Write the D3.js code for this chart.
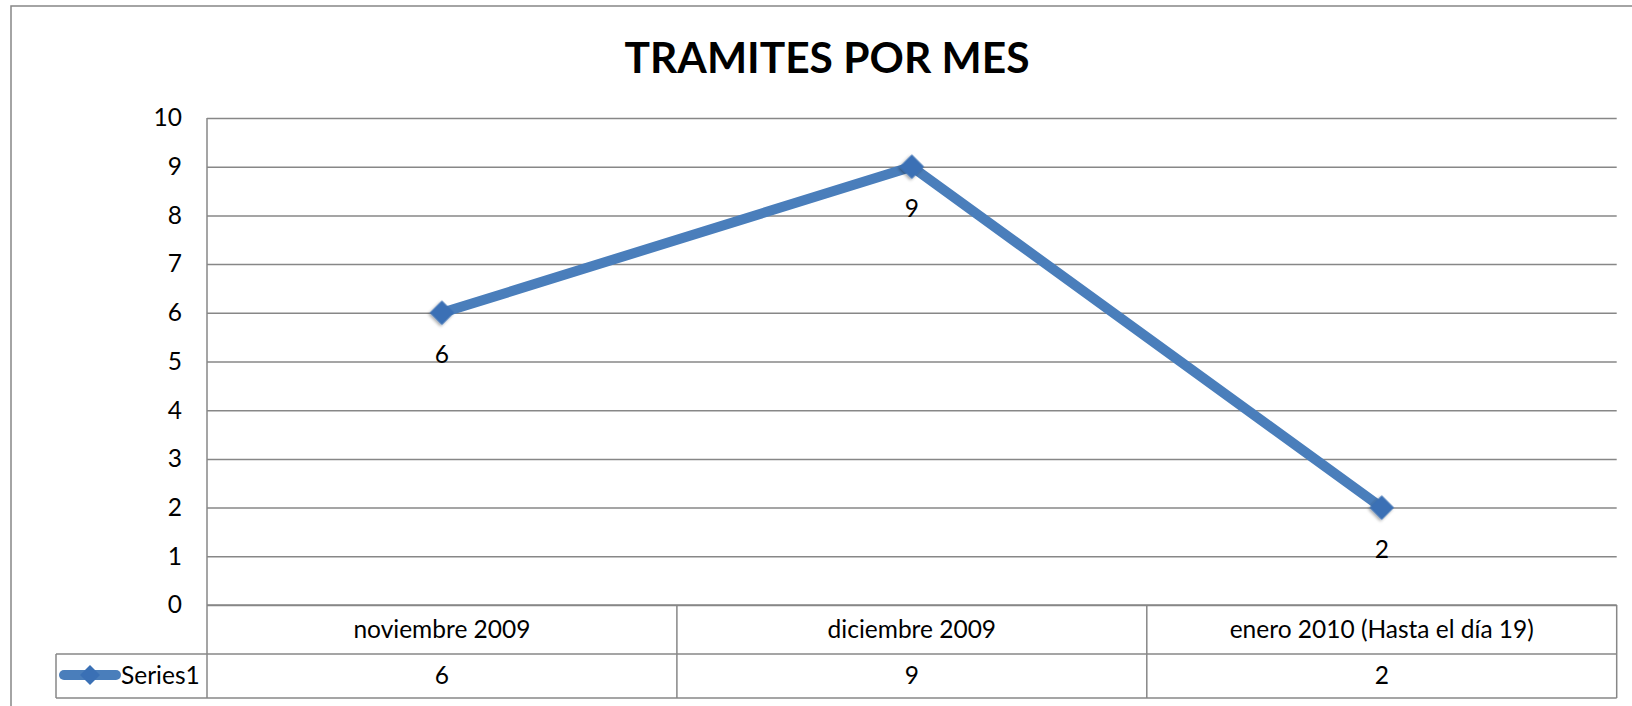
<!DOCTYPE html>
<html>
<head>
<meta charset="utf-8">
<script src="https://cdn.jsdelivr.net/npm/d3@7"></script>
<style>
  body { margin: 0; background: #fff; }
  svg { display: block; font-family: Lato, "Noto Sans", sans-serif; }
</style>
</head>
<body>
<script>
var categories = ["noviembre 2009", "diciembre 2009", "enero 2010 (Hasta el día 19)"];
var values = [6, 9, 2];
var yTicks = [0, 1, 2, 3, 4, 5, 6, 7, 8, 9, 10];
var seriesName = "Series1";
var title = "TRAMITES POR MES";

var width = 1632;
var height = 706;
var plotLeft = 207, plotRight = 1616.7, plotTop = 118, plotBottom = 605;
var rowH1 = 49, rowH2 = 44;
var gridColor = "#878787";
var lineColor = "#4a7ebb";

const svg = d3
  .select("body")
  .append("svg")
  .attr("width", width)
  .attr("height", height);

// outer chart border (runs past the right / bottom edge)
svg.append("rect")
  .attr("x", 11)
  .attr("y", 6)
  .attr("width", width)
  .attr("height", height)
  .attr("fill", "none")
  .attr("stroke", gridColor)
  .attr("stroke-width", 1.5);

const x = d3.scaleBand().domain(categories).range([plotLeft, plotRight]);
const y = d3.scaleLinear().domain([0, 10]).range([plotBottom, plotTop]);

// title
svg.append("text")
  .attr("x", 827)
  .attr("y", 73)
  .attr("text-anchor", "middle")
  .attr("font-weight", "bold")
  .attr("font-size", 42.5)
  .text(title);

// gridlines
svg.append("g")
  .attr("transform", "translate(" + plotLeft + ",0)")
  .call(d3.axisLeft(y).tickValues(yTicks).tickSize(-(plotRight - plotLeft)).tickFormat(""))
  .call(g => g.select(".domain").remove())
  .call(g => g.selectAll("line").attr("stroke", gridColor).attr("stroke-width", 1.5));

// y tick labels
svg.append("g")
  .attr("transform", "translate(" + plotLeft + ",0)")
  .call(d3.axisLeft(y).tickValues(yTicks).tickSize(0).tickPadding(25))
  .call(g => g.select(".domain").remove())
  .call(g => g.selectAll("text")
    .attr("font-family", "Lato, sans-serif")
    .attr("font-size", 24.5)
    .attr("fill", "#000"));

// data table under the plot
var tbl = svg.append("g").attr("stroke", gridColor).attr("stroke-width", 1.5).attr("fill", "none");
tbl.append("line").attr("x1", plotLeft).attr("x2", plotLeft).attr("y1", plotTop).attr("y2", plotBottom + rowH1 + rowH2);
tbl.append("line").attr("x1", plotLeft).attr("x2", plotRight).attr("y1", plotBottom).attr("y2", plotBottom);
tbl.append("line").attr("x1", 56).attr("x2", plotRight).attr("y1", plotBottom + rowH1).attr("y2", plotBottom + rowH1);
tbl.append("line").attr("x1", 56).attr("x2", plotRight).attr("y1", plotBottom + rowH1 + rowH2).attr("y2", plotBottom + rowH1 + rowH2);
tbl.append("line").attr("x1", 56).attr("x2", 56).attr("y1", plotBottom + rowH1).attr("y2", plotBottom + rowH1 + rowH2);
tbl.selectAll(".vcol")
  .data(categories)
  .enter()
  .append("line")
  .attr("x1", d => x(d) + x.bandwidth())
  .attr("x2", d => x(d) + x.bandwidth())
  .attr("y1", plotBottom)
  .attr("y2", plotBottom + rowH1 + rowH2);

svg.append("g")
  .selectAll("text")
  .data(categories)
  .enter()
  .append("text")
  .attr("x", d => x(d) + x.bandwidth() / 2)
  .attr("y", plotBottom + 33)
  .attr("text-anchor", "middle")
  .attr("font-size", 24.5)
  .text(d => d);

svg.append("g")
  .selectAll("text")
  .data(values)
  .enter()
  .append("text")
  .attr("x", (d, i) => x(categories[i]) + x.bandwidth() / 2)
  .attr("y", plotBottom + rowH1 + 30)
  .attr("text-anchor", "middle")
  .attr("font-size", 24.5)
  .text(d => d);

// legend key inside the table
var ly = plotBottom + rowH1 + rowH2 / 2 - 1;
svg.append("line")
  .attr("x1", 64).attr("x2", 116).attr("y1", ly).attr("y2", ly)
  .attr("stroke", lineColor).attr("stroke-width", 10).attr("stroke-linecap", "round");
svg.append("path")
  .attr("d", d3.symbol(d3.symbolSquare, 200)())
  .attr("transform", "translate(90," + ly + ") rotate(45)")
  .attr("fill", "#3a70b5");
svg.append("text")
  .attr("x", 121)
  .attr("y", ly + 9)
  .attr("font-size", 24.5)
  .text(seriesName);

// drop shadow for markers
var defs = svg.append("defs");
var f = defs.append("filter").attr("id", "sh").attr("x", "-50%").attr("y", "-50%").attr("width", "200%").attr("height", "200%");
f.append("feDropShadow").attr("dx", 0).attr("dy", 2).attr("stdDeviation", 1.5).attr("flood-color", "#000").attr("flood-opacity", 0.35);

// series line
const line = d3.line()
  .x((d, i) => x(categories[i]) + x.bandwidth() / 2)
  .y(d => y(d));

svg.append("path")
  .datum(values)
  .attr("d", line)
  .attr("fill", "none")
  .attr("stroke", lineColor)
  .attr("stroke-width", 10)
  .attr("stroke-linejoin", "round");

svg.append("g")
  .selectAll("path")
  .data(values)
  .enter()
  .append("path")
  .attr("d", d3.symbol(d3.symbolSquare, 300)())
  .attr("transform", (d, i) => "translate(" + (x(categories[i]) + x.bandwidth() / 2) + "," + y(d) + ") rotate(45)")
  .attr("fill", "#3a70b5")
  .attr("filter", "url(#sh)");

// data labels below points
svg.append("g")
  .selectAll("text")
  .data(values)
  .enter()
  .append("text")
  .attr("x", (d, i) => x(categories[i]) + x.bandwidth() / 2)
  .attr("y", d => y(d) + 50)
  .attr("text-anchor", "middle")
  .attr("font-size", 24.5)
  .text(d => d);
</script>
</body>
</html>
